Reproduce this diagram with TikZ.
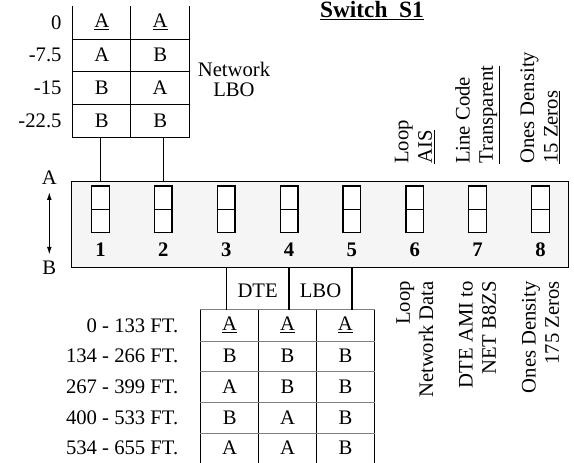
\documentclass[tikz,border=0pt]{standalone}
\usepackage{fontspec}
\setmainfont{Liberation Serif}
\usepackage{tikz}
\usetikzlibrary{positioning}
\usetikzlibrary{arrows.meta}

\tikzset{
  swbox/.style={draw, line width=1pt, fill=white, minimum width=13.2pt, minimum height=35pt, inner sep=0pt},
  lbocell/.style={minimum width=43.7pt, minimum height=24.5pt, inner sep=0pt},
  ftcell/.style={minimum width=43.4pt, minimum height=23pt, inner sep=0pt},
  rowlbl/.style={inner sep=0pt},
  numlbl/.style={inner sep=0pt, font=\fontsize{15.5}{17}\selectfont\bfseries},
  uplbl/.style={rotate=90, anchor=west, align=left, inner sep=0pt},
  dnlbl/.style={rotate=90, anchor=east, align=right, inner sep=0pt},
  wire/.style={line width=1pt},
  gridline/.style={line width=0.6pt},
  grayline/.style={line width=0.6pt, color={rgb, 255:red, 128; green, 128; blue, 128 }},
}

\begin{document}
\begin{tikzpicture}[x=0.75pt,y=0.75pt,yscale=-1,xscale=1, font=\fontsize{15.5}{17.5}\selectfont]
\useasboundingbox (0,0) rectangle (574,462);

\node [draw, line width=1pt, fill={rgb, 255:red, 245; green, 245; blue, 245 }, minimum width=372.75pt, minimum height=64.5pt, inner sep=0pt, anchor=north west] (dipbox) at (71,181) {};

\node [swbox] (sw1) at (100.5,209.35) {};
\node [swbox] (sw2) at (163.35,209.35) {};
\node [swbox] (sw3) at (226.2,209.35) {};
\node [swbox] (sw4) at (289.05,209.35) {};
\node [swbox] (sw5) at (351.9,209.35) {};
\node [swbox] (sw6) at (414.75,209.35) {};
\node [swbox] (sw7) at (477.6,209.35) {};
\node [swbox] (sw8) at (540.45,209.35) {};
\draw [line width=1pt] (sw1.west) -- (sw1.east) (sw2.west) -- (sw2.east) (sw3.west) -- (sw3.east) (sw4.west) -- (sw4.east);
\draw [line width=1pt] (sw5.west) -- (sw5.east) (sw6.west) -- (sw6.east) (sw7.west) -- (sw7.east) (sw8.west) -- (sw8.east);

\node [numlbl] (num1) at (100.5,250) {1};
\node [numlbl] (num2) at (163.35,250) {2};
\node [numlbl] (num3) at (226.2,250) {3};
\node [numlbl] (num4) at (289.05,250) {4};
\node [numlbl] (num5) at (351.9,250) {5};
\node [numlbl] (num6) at (414.75,250) {6};
\node [numlbl] (num7) at (477.6,250) {7};
\node [numlbl] (num8) at (540.45,250) {8};

\node [inner sep=0pt] (posa) at (49.3,178) {A};
\node [inner sep=0pt] (posb) at (49.3,268) {B};
\draw [line width=1pt, {Latex[length=6pt,width=3.5pt]}-{Latex[length=6pt,width=3.5pt]}, shorten <=5pt, shorten >=4.5pt] (posa.south) -- (posb.north);

\node [inner sep=0pt, anchor=base, font=\fontsize{17.5}{19}\selectfont\bfseries] (title) at (372,17.3) {\underline{Switch\ \ S1}};

\node [lbocell] (lboa1) at (101.85,22.35) {\underline{A}};
\node [lbocell] (lbob1) at (160.15,22.35) {\underline{A}};
\node [lbocell] (lboa2) at (101.85,55.05) {A};
\node [lbocell] (lbob2) at (160.15,55.05) {B};
\node [lbocell] (lboa3) at (101.85,87.75) {B};
\node [lbocell] (lbob3) at (160.15,87.75) {A};
\node [lbocell] (lboa4) at (101.85,120.45) {B};
\node [lbocell] (lbob4) at (160.15,120.45) {B};
\node [rowlbl, left=8pt of lboa1] (lbov1) {0};
\node [rowlbl, left=8pt of lboa2] (lbov2) {-7.5};
\node [rowlbl, left=8pt of lboa3] (lbov3) {-15};
\node [rowlbl, left=8pt of lboa4] (lbov4) {-22.5};
\draw [gridline] (lboa1.north west) -- (lboa4.south west);
\draw [gridline] (lbob1.north west) -- (lbob4.south west);
\draw [gridline] (lbob1.north east) -- (lbob4.south east);
\draw [gridline] (lboa1.south west) -- (lbob1.south east);
\draw [gridline] (lboa2.south west) -- (lbob2.south east);
\draw [gridline] (lboa3.south west) -- (lbob3.south east);
\draw [gridline] (lboa4.south west) -- (lbob4.south east);
\node [inner sep=0pt, align=center, font=\fontsize{15.5}{15}\selectfont] (netlbo) at (234,79) {Network\\LBO};

\draw [wire] (sw1 |- lboa4.south) -- (sw1 |- dipbox.north);
\draw [wire] (sw2 |- lbob4.south) -- (sw2 |- dipbox.north);

\node [uplbl] (up6) at (414.75,164) {Loop\\\underline{AIS}};
\node [uplbl] (up7) at (477.6,164) {Line Code\\\underline{Transparent}};
\node [uplbl] (up8) at (540.45,164) {Ones Density\\\underline{15 Zeros}};

\node [dnlbl] (dn6) at (414.75,281) {Loop\\Network Data};
\node [dnlbl] (dn7) at (477.6,281) {DTE AMI to\\NET B8ZS};
\node [dnlbl] (dn8) at (540.45,281) {Ones Density\\175 Zeros};

\node [ftcell] (fta1) at (229.65,325.35) {\underline{A}};
\node [ftcell] (ftb1) at (287.55,325.35) {\underline{A}};
\node [ftcell] (ftc1) at (345.45,325.35) {\underline{A}};
\node [ftcell] (fta2) at (229.65,356.05) {B};
\node [ftcell] (ftb2) at (287.55,356.05) {B};
\node [ftcell] (ftc2) at (345.45,356.05) {B};
\node [ftcell] (fta3) at (229.65,386.75) {A};
\node [ftcell] (ftb3) at (287.55,386.75) {B};
\node [ftcell] (ftc3) at (345.45,386.75) {B};
\node [ftcell] (fta4) at (229.65,417.45) {B};
\node [ftcell] (ftb4) at (287.55,417.45) {A};
\node [ftcell] (ftc4) at (345.45,417.45) {B};
\node [ftcell] (fta5) at (229.65,448.15) {A};
\node [ftcell] (ftb5) at (287.55,448.15) {A};
\node [ftcell] (ftc5) at (345.45,448.15) {B};
\node [rowlbl, left=16.5pt of fta1] (ftl1) {0 - 133 FT.};
\node [rowlbl, left=16.5pt of fta2] (ftl2) {134 - 266 FT.};
\node [rowlbl, left=16.5pt of fta3] (ftl3) {267 - 399 FT.};
\node [rowlbl, left=16.5pt of fta4] (ftl4) {400 - 533 FT.};
\node [rowlbl, left=16.5pt of fta5] (ftl5) {534 - 655 FT.};
\draw [gridline] (fta1.north west) -- (fta5.south west);
\draw [gridline] (ftb1.north west) -- (ftb5.south west);
\draw [gridline] (ftc1.north west) -- (ftc5.south west);
\draw [gridline] (ftc1.north east) -- (ftc5.south east);
\draw [grayline, line width=1pt] (fta1.north west) -- (ftc1.north east);
\draw [grayline] (fta1.south west) -- (ftc1.south east);
\draw [grayline] (fta2.south west) -- (ftc2.south east);
\draw [grayline] (fta3.south west) -- (ftc3.south east);
\draw [grayline] (fta4.south west) -- (ftc4.south east);

\draw [wire] (sw3 |- dipbox.south) -- (sw3 |- fta1.north);
\draw [wire] (sw4 |- dipbox.south) -- (sw4 |- ftb1.north);
\draw [wire] (sw5 |- dipbox.south) -- (sw5 |- ftc1.north);
\node [inner sep=0pt] (dte) at (257.6,291) {DTE};
\node [inner sep=0pt] (ltbo) at (320.5,291) {LBO};

\end{tikzpicture}
\end{document}
